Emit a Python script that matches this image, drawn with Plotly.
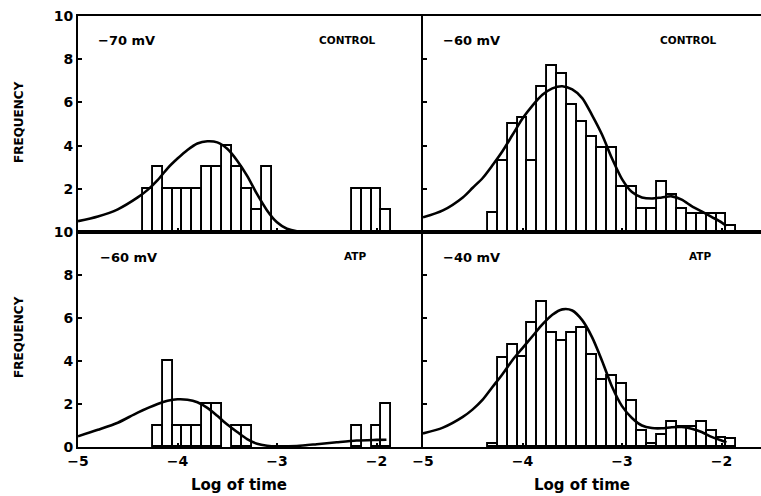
import plotly.graph_objects as go

# ---------------- data ----------------
bin_width = 0.1

# top-left: -70 mV CONTROL
tl_bins = [-4.3, -4.2, -4.1, -4.0, -3.9, -3.8, -3.7, -3.6, -3.5, -3.4, -3.3, -3.2, -3.1,
           -2.2, -2.1, -2.0, -1.9]
tl_freq = [2, 3, 2, 2, 2, 2, 3, 3, 4, 3, 2, 1, 3,
           2, 2, 2, 1]
tl_fit_x = [-5.0, -4.8, -4.6, -4.4, -4.3, -4.2, -4.1, -4.0, -3.9, -3.8, -3.7, -3.6, -3.5,
            -3.4, -3.3, -3.2, -3.1, -3.0, -2.9, -2.8, -2.7]
tl_fit_y = [0.5, 0.72, 1.05, 1.6, 1.95, 2.4, 2.95, 3.4, 3.8, 4.1, 4.2, 4.15, 3.85,
            3.3, 2.6, 1.75, 1.0, 0.45, 0.15, 0.03, 0.0]

# top-right: -60 mV CONTROL
tr_bins = [-4.3, -4.2, -4.1, -4.0, -3.9, -3.8, -3.7, -3.6, -3.5, -3.4, -3.3, -3.2, -3.1,
           -3.0, -2.9, -2.8, -2.7, -2.6, -2.5, -2.4, -2.3, -2.2, -2.1, -2.0, -1.9]
tr_freq = [0.9, 3.3, 5.0, 5.3, 3.3, 6.7, 7.7, 7.3, 5.9, 5.1, 4.4, 3.9, 3.9,
           2.1, 2.1, 1.05, 1.05, 2.3, 1.7, 1.05, 0.85, 0.85, 0.85, 0.85, 0.3]
tr_fit_x = [-5.0, -4.8, -4.6, -4.5, -4.4, -4.3, -4.2, -4.1, -4.0, -3.9, -3.8, -3.7, -3.6,
            -3.5, -3.4, -3.3, -3.2, -3.1, -3.0, -2.9, -2.8, -2.7, -2.6, -2.5, -2.4,
            -2.3, -2.2, -2.1, -2.0, -1.95]
tr_fit_y = [0.68, 1.0, 1.6, 2.05, 2.5, 3.1, 3.75, 4.5, 5.25, 5.85, 6.35, 6.65, 6.75,
            6.6, 6.2, 5.4, 4.5, 3.4, 2.45, 1.85, 1.6, 1.55, 1.6, 1.65, 1.5,
            1.2, 0.95, 0.7, 0.45, 0.28]

# bottom-left: -60 mV ATP
bl_bins = [-4.2, -4.1, -4.0, -3.9, -3.8, -3.7, -3.6, -3.4, -3.3,
           -2.2, -2.0, -1.9]
bl_freq = [1, 4, 1, 1, 1, 2, 2, 1, 1,
           1, 1, 2]
bl_fit_x = [-5.0, -4.8, -4.6, -4.4, -4.2, -4.1, -4.0, -3.9, -3.8, -3.7, -3.6, -3.5,
            -3.4, -3.3, -3.2, -3.1, -3.0, -2.8, -2.6, -2.4, -2.2, -2.0, -1.9]
bl_fit_y = [0.5, 0.8, 1.13, 1.6, 2.0, 2.15, 2.22, 2.2, 2.08, 1.82, 1.45, 1.05,
            0.7, 0.37, 0.15, 0.06, 0.03, 0.05, 0.13, 0.22, 0.3, 0.33, 0.34]

# bottom-right: -40 mV ATP
br_bins = [-4.3, -4.2, -4.1, -4.0, -3.9, -3.8, -3.7, -3.6, -3.5, -3.4, -3.3, -3.2, -3.1,
           -3.0, -2.9, -2.8, -2.7, -2.6, -2.5, -2.4, -2.3, -2.2, -2.1, -2.0, -1.9]
br_freq = [0.13, 4.15, 4.75, 4.2, 5.75, 6.75, 5.3, 4.92, 5.3, 5.55, 4.3, 3.1, 3.3,
           2.95, 2.15, 0.75, 0.15, 0.57, 1.15, 0.93, 0.93, 1.15, 0.75, 0.4, 0.35]
br_fit_x = [-5.0, -4.8, -4.6, -4.5, -4.4, -4.3, -4.2, -4.1, -4.0, -3.9, -3.8, -3.7, -3.6,
            -3.5, -3.4, -3.3, -3.2, -3.1, -3.0, -2.9, -2.8, -2.7, -2.6, -2.5, -2.4,
            -2.3, -2.2, -2.1, -2.0, -1.95]
br_fit_y = [0.63, 0.9, 1.4, 1.75, 2.2, 2.8, 3.4, 4.05, 4.6, 5.15, 5.7, 6.15, 6.4,
            6.35, 5.9, 5.1, 4.0, 2.8, 1.9, 1.35, 1.0, 0.88, 0.87, 0.92, 0.93,
            0.85, 0.7, 0.47, 0.3, 0.22]

panel_text = [("−70 mV", "CONTROL"), ("−60 mV", "CONTROL"), ("−60 mV", "ATP"), ("−40 mV", "ATP")]
x_ticks = [-5, -4, -3, -2]
y_ticks = [0, 2, 4, 6, 8, 10]
x_title = "Log of time"
y_title = "FREQUENCY"

# ---------------- figure ----------------
W, H = 761, 496
ML, MR, MT, MB = 78, 0, 16, 49
PW, PH = W - ML - MR, H - MT - MB
XSPLIT = 423   # px of the middle vertical axis
YSPLIT = 232   # px of the middle horizontal axis
d = (XSPLIT - ML) / PW
h = (H - MB - YSPLIT) / PH
PXU = 99.5     # px per log unit
left_range = [-5, -5 + (XSPLIT - ML) / PXU]
right_range = [-5, -5 + (W - MR - XSPLIT) / PXU]


def px(x):
    return (x - ML) / PW


def py(y):
    return (H - MB - y) / PH


FONT = "DejaVu Sans"
fig = go.Figure()

panels = [
    (tl_bins, tl_freq, tl_fit_x, tl_fit_y, "x3", "y3"),
    (tr_bins, tr_freq, tr_fit_x, tr_fit_y, "x4", "y4"),
    (bl_bins, bl_freq, bl_fit_x, bl_fit_y, "x", "y"),
    (br_bins, br_freq, br_fit_x, br_fit_y, "x2", "y2"),
]
for bins, freq, fx, fy, xa, ya in panels:
    fig.add_trace(go.Bar(x=bins, y=freq, width=bin_width, xaxis=xa, yaxis=ya,
                         marker=dict(color="white", line=dict(color="black", width=1.9)),
                         showlegend=False, hoverinfo="skip"))
    fig.add_trace(go.Scatter(x=fx, y=fy, xaxis=xa, yaxis=ya, mode="lines",
                             line=dict(color="black", width=2.6, shape="spline", smoothing=0.8),
                             showlegend=False, hoverinfo="skip", cliponaxis=True))

tickfont = dict(family=FONT, size=14, color="black", weight="bold")
common_x = dict(showgrid=False, zeroline=False, showline=True, linecolor="black", linewidth=2,
                tickvals=x_ticks, ticks="inside", ticklen=4, tickwidth=2, tickcolor="black",
                tickfont=tickfont, fixedrange=True)
common_y = dict(showgrid=False, zeroline=False, showline=True, linecolor="black", linewidth=2,
                range=[0, 10], ticks="inside", ticklen=4, tickwidth=2, tickcolor="black",
                tickfont=tickfont, fixedrange=True)

layout = dict(
    width=W, height=H, margin=dict(l=ML, r=MR, t=MT, b=MB),
    paper_bgcolor="white", plot_bgcolor="white", bargap=0,
    font=dict(family=FONT, color="black"),
    xaxis=dict(common_x, domain=[0, d], range=left_range, anchor="y", mirror=True, showticklabels=True),
    xaxis2=dict(common_x, domain=[d, 1], range=right_range, anchor="y2", mirror=True, showticklabels=True),
    xaxis3=dict(common_x, domain=[0, d], range=left_range, anchor="y3", mirror=True, showticklabels=False),
    xaxis4=dict(common_x, domain=[d, 1], range=right_range, anchor="y4", mirror=True, showticklabels=False),
    yaxis=dict(common_y, domain=[0, h], anchor="x", tickvals=y_ticks, showticklabels=True),
    yaxis2=dict(common_y, domain=[0, h], anchor="x2", tickvals=y_ticks[1:-1], showticklabels=False),
    yaxis3=dict(common_y, domain=[h, 1], anchor="x3", tickvals=y_ticks[1:], showticklabels=True),
    yaxis4=dict(common_y, domain=[h, 1], anchor="x4", tickvals=y_ticks[1:-1], showticklabels=False),
)
# overlay axes providing the outer half of the crossing tick marks
ov = dict(showgrid=False, zeroline=False, showline=False, ticks="outside", ticklen=3, tickwidth=2,
          tickcolor="black", showticklabels=False, fixedrange=True)
layout["xaxis5"] = dict(ov, overlaying="x", anchor="y", range=left_range, tickvals=x_ticks)
layout["xaxis6"] = dict(ov, overlaying="x2", anchor="y2", range=right_range, tickvals=x_ticks)
layout["xaxis7"] = dict(ov, overlaying="x3", anchor="y3", range=left_range, tickvals=x_ticks)
layout["xaxis8"] = dict(ov, overlaying="x4", anchor="y4", range=right_range, tickvals=x_ticks)
layout["yaxis5"] = dict(ov, overlaying="y", anchor="x", range=[0, 10], tickvals=y_ticks[1:-1])
layout["yaxis6"] = dict(ov, overlaying="y2", anchor="x2", range=[0, 10], tickvals=y_ticks[1:-1])
layout["yaxis7"] = dict(ov, overlaying="y3", anchor="x3", range=[0, 10], tickvals=y_ticks[1:-1])
layout["yaxis8"] = dict(ov, overlaying="y4", anchor="x4", range=[0, 10], tickvals=y_ticks[1:-1])
fig.update_layout(**layout)

ann = []
label_pos = [  # (mV x-left, cond x-left, y centre)
    (96, 317, 41), (441, 658, 41), (98, 342, 257), (441, 687, 257)]
for (mv, cond), (xm, xc, yc) in zip(panel_text, label_pos):
    ann.append(dict(text=mv, x=px(xm), y=py(yc), xref="paper", yref="paper", xanchor="left",
                    yanchor="middle", showarrow=False, font=dict(family=FONT, size=13, color="black", weight="bold")))
    ann.append(dict(text=cond, x=px(xc), y=py(yc - 1), xref="paper", yref="paper", xanchor="left",
                    yanchor="middle", showarrow=False, font=dict(family=FONT, size=10.5, color="black", weight="bold")))
for yc in (122, 337):
    ann.append(dict(text=y_title, x=px(19), y=py(yc), xref="paper", yref="paper", xanchor="center",
                    yanchor="middle", textangle=-90, showarrow=False,
                    font=dict(family=FONT, size=12, color="black", weight="bold")))
for xc in (239, 582):
    ann.append(dict(text=x_title, x=px(xc), y=py(485), xref="paper", yref="paper", xanchor="center",
                    yanchor="middle", showarrow=False,
                    font=dict(family=FONT, size=15, color="black", weight="bold")))
fig.update_layout(annotations=ann)

fig.write_html("out.html")
